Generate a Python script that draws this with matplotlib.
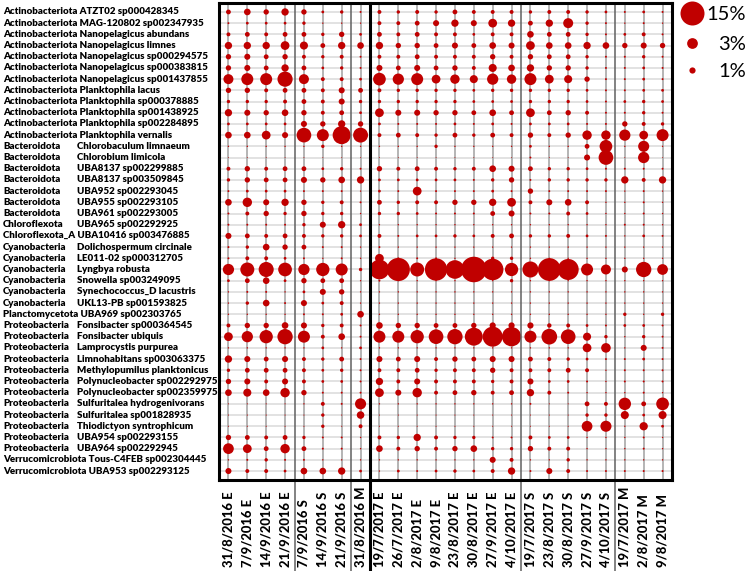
import numpy as np
import matplotlib.pyplot as plt
from matplotlib.transforms import blended_transform_factory

# taxa (rows, top to bottom)
phyla = ['Actinobacteriota'] * 12 + ['Bacteroidota'] * 7 + ['Chloroflexota', 'Chloroflexota_A'] + \
        ['Cyanobacteria'] * 6 + ['Planctomycetota'] + ['Proteobacteria'] * 12 + ['Verrucomicrobiota'] * 2
species = ['ATZT02 sp000428345', 'MAG-120802 sp002347935', 'Nanopelagicus abundans', 'Nanopelagicus limnes',
           'Nanopelagicus sp000294575', 'Nanopelagicus sp000383815', 'Nanopelagicus sp001437855',
           'Planktophila lacus', 'Planktophila sp000378885', 'Planktophila sp001438925',
           'Planktophila sp002284895', 'Planktophila vernalis',
           'Chlorobaculum limnaeum', 'Chlorobium limicola', 'UBA8137 sp002299885', 'UBA8137 sp003509845',
           'UBA952 sp002293045', 'UBA955 sp002293105', 'UBA961 sp002293005',
           'UBA965 sp002292925', 'UBA10416 sp003476885',
           'Dolichospermum circinale', 'LE011-02 sp000312705', 'Lyngbya robusta', 'Snowella sp003249095',
           'Synechococcus_D lacustris', 'UKL13-PB sp001593825',
           'UBA969 sp002303765',
           'Fonsibacter sp000364545', 'Fonsibacter ubiquis', 'Lamprocystis purpurea', 'Limnohabitans sp003063375',
           'Methylopumilus planktonicus', 'Polynucleobacter sp002292975', 'Polynucleobacter sp002359975',
           'Sulfuritalea hydrogenivorans', 'Sulfuritalea sp001828935', 'Thiodictyon syntrophicum',
           'UBA954 sp002293155', 'UBA964 sp002292945',
           'Tous-C4FEB sp002304445', 'UBA953 sp002293125']

# samples (columns)
samples = ['31/8/2016 E', '7/9/2016 E', '14/9/2016 E', '21/9/2016 E',
           '7/9/2016 S', '14/9/2016 S', '21/9/2016 S', '31/8/2016 M',
           '19/7/2017 E', '26/7/2017 E', '2/8/2017 E', '9/8/2017 E',
           '23/8/2017 E', '30/8/2017 E', '27/9/2017 E', '4/10/2017 E',
           '19/7/2017 S', '23/8/2017 S', '30/8/2017 S', '27/9/2017 S', '4/10/2017 S',
           '19/7/2017 M', '2/8/2017 M', '9/8/2017 M']

# relative abundance (%), one row per taxon
abundance = [
    [0.6, 1.15, 0.75, 1.4, 0.75, 0.2, 0.3, 0.1, 0.4, 0.3, 0.4, 0.3, 0.6, 0.4, 0.4, 0.4, 0.3, 0.4, 0.4, 0.3, 0.2, 0.1, 0.2, 0.1],
    [0.1, 0.2, 0.2, 0.2, 0.3, 0.05, 0.05, 0.05, 0.4, 0.4, 0.6, 0.95, 1.4, 0.95, 2.0, 1.4, 0.6, 1.4, 2.6, 0.3, 0.1, 0.05, 0.1, 0.05],
    [0.4, 0.6, 0.4, 0.6, 0.6, 0.3, 0.75, 0.2, 0.6, 0.4, 0.6, 0.4, 0.4, 0.2, 0.4, 0.4, 1.15, 0.6, 0.6, 0.3, 0.1, 0.2, 0.4, 0.1],
    [1.4, 1.4, 1.4, 2.0, 1.7, 0.6, 1.4, 1.15, 1.4, 0.75, 0.75, 0.6, 0.95, 0.6, 1.15, 0.95, 2.0, 1.15, 1.15, 1.4, 1.15, 0.75, 0.95, 0.75],
    [0.75, 0.95, 0.6, 0.75, 0.4, 0.3, 0.4, 0.1, 0.4, 0.4, 0.6, 0.4, 0.4, 0.4, 0.75, 0.4, 0.75, 0.6, 0.6, 0.3, 0.1, 0.1, 0.3, 0.1],
    [0.75, 0.95, 0.6, 1.4, 0.6, 0.2, 0.3, 0.1, 0.95, 0.6, 0.95, 0.6, 0.75, 0.4, 1.7, 1.15, 1.4, 0.75, 0.75, 0.3, 0.1, 0.1, 0.2, 0.1],
    [2.6, 3.75, 3.75, 6.0, 2.6, 0.4, 0.4, 0.2, 4.2, 3.3, 3.75, 2.0, 2.3, 1.7, 3.3, 2.3, 3.75, 2.0, 1.7, 0.75, 0.1, 0.1, 0.2, 0.1],
    [0.75, 0.75, 0.4, 0.6, 0.6, 0.4, 0.95, 0.6, 0.4, 0.3, 0.3, 0.3, 0.3, 0.2, 0.3, 0.3, 0.3, 0.3, 0.3, 0.2, 0.1, 0.1, 0.2, 0.2],
    [0.3, 0.3, 0.3, 0.4, 0.6, 0.4, 0.95, 0.3, 0.3, 0.3, 0.3, 0.3, 0.3, 0.2, 0.2, 0.2, 0.3, 0.3, 0.3, 0.2, 0.1, 0.2, 0.3, 0.2],
    [1.4, 0.95, 0.75, 1.15, 0.75, 0.4, 0.6, 0.2, 2.0, 0.95, 0.95, 0.75, 0.75, 0.6, 1.15, 0.6, 2.0, 0.6, 0.75, 0.4, 0.1, 0.1, 0.3, 0.1],
    [0.2, 0.2, 0.2, 0.2, 0.95, 0.75, 1.4, 0.75, 0.2, 0.1, 0.1, 0.1, 0.2, 0.1, 0.2, 0.1, 0.2, 0.2, 0.2, 0.1, 0.1, 0.75, 0.4, 0.3],
    [1.15, 1.15, 2.0, 0.95, 5.6, 3.75, 8.5, 5.8, 0.4, 0.6, 0.4, 0.3, 0.6, 0.3, 0.6, 0.4, 0.75, 0.4, 0.75, 2.3, 2.3, 3.3, 2.0, 3.75],
    [0.05, 0.05, 0.05, 0.05, 0.05, 0.3, 0.05, 0.05, 0.05, 0.05, 0.05, 0.3, 0.05, 0.05, 0.05, 0.05, 0.2, 0.05, 0.05, 0.6, 4.2, 0.05, 3.2, 0.05],
    [0.02, 0.02, 0.02, 0.02, 0.02, 0.02, 0.02, 0.02, 0.02, 0.02, 0.02, 0.02, 0.02, 0.02, 0.02, 0.02, 0.1, 0.02, 0.02, 0.95, 5.6, 0.02, 3.3, 0.02],
    [0.4, 0.75, 0.4, 0.6, 0.6, 0.2, 0.3, 0.1, 0.75, 0.4, 0.6, 0.4, 0.3, 0.4, 1.15, 0.95, 0.6, 0.3, 0.3, 0.2, 0.1, 0.1, 0.1, 0.1],
    [0.3, 0.75, 0.6, 0.6, 0.95, 0.75, 1.15, 1.4, 0.2, 0.2, 0.2, 0.2, 0.2, 0.1, 0.3, 0.75, 0.1, 0.3, 0.3, 0.3, 0.3, 1.4, 0.4, 1.4],
    [0.1, 0.2, 0.2, 0.2, 0.1, 0.1, 0.1, 0.05, 0.2, 0.1, 2.0, 0.1, 0.1, 0.1, 0.2, 0.1, 0.75, 0.1, 0.1, 0.1, 0.1, 0.05, 0.1, 0.05],
    [1.15, 2.3, 0.95, 1.4, 0.75, 0.3, 0.4, 0.1, 0.6, 0.3, 0.4, 0.4, 0.75, 0.75, 1.4, 2.0, 0.4, 0.95, 1.15, 0.4, 0.05, 0.05, 0.1, 0.05],
    [0.1, 0.4, 0.75, 0.3, 0.75, 0.3, 0.3, 0.05, 0.3, 0.3, 0.2, 0.1, 0.1, 0.1, 0.6, 0.95, 0.1, 0.1, 0.4, 0.2, 0.05, 0.05, 0.1, 0.05],
    [0.1, 0.1, 0.1, 0.1, 0.3, 0.95, 1.4, 0.2, 0.05, 0.05, 0.05, 0.05, 0.05, 0.05, 0.05, 0.05, 0.05, 0.05, 0.05, 0.05, 0.05, 0.1, 0.1, 0.05],
    [0.95, 0.6, 0.4, 0.6, 0.4, 0.3, 0.3, 0.2, 0.4, 0.1, 0.2, 0.2, 0.3, 0.2, 0.4, 0.6, 0.3, 0.3, 0.4, 0.2, 0.1, 0.05, 0.2, 0.1],
    [0.1, 0.3, 1.15, 0.75, 0.6, 0.1, 0.1, 0.05, 0.1, 0.05, 0.05, 0.05, 0.05, 0.05, 0.05, 0.05, 0.05, 0.05, 0.05, 0.05, 0.05, 0.05, 0.05, 0.05],
    [0.1, 0.4, 0.4, 0.2, 0.1, 0.05, 0.1, 0.05, 2.0, 0.1, 0.1, 0.1, 0.05, 0.05, 0.3, 0.3, 0.05, 0.05, 0.05, 0.05, 0.05, 0.05, 0.05, 0.05],
    [3.3, 5.1, 5.9, 4.9, 3.3, 4.6, 3.75, 0.3, 10.0, 14.0, 5.1, 13.0, 9.0, 17.0, 12.0, 4.6, 6.7, 13.5, 11.5, 3.75, 2.6, 0.95, 6.1, 3.0],
    [0.2, 0.6, 1.15, 0.2, 0.75, 0.6, 0.6, 0.05, 0.1, 0.05, 0.05, 0.05, 0.05, 0.05, 0.05, 0.3, 0.05, 0.05, 0.05, 0.05, 0.05, 0.05, 0.05, 0.05],
    [0.05, 0.1, 0.1, 0.05, 0.2, 0.95, 0.75, 0.05, 0.05, 0.05, 0.05, 0.05, 0.05, 0.05, 0.05, 0.05, 0.05, 0.05, 0.05, 0.05, 0.05, 0.05, 0.05, 0.05],
    [0.05, 0.3, 1.15, 0.1, 0.95, 0.2, 0.4, 0.05, 0.05, 0.05, 0.05, 0.05, 0.05, 0.05, 0.05, 0.05, 0.05, 0.05, 0.05, 0.05, 0.05, 0.05, 0.05, 0.05],
    [0.05, 0.05, 0.05, 0.05, 0.1, 0.1, 0.2, 1.15, 0.05, 0.05, 0.05, 0.05, 0.05, 0.05, 0.05, 0.05, 0.05, 0.05, 0.05, 0.05, 0.05, 0.3, 0.05, 0.3],
    [0.4, 0.75, 0.75, 1.15, 0.95, 0.3, 0.4, 0.1, 1.15, 0.75, 0.75, 0.6, 0.6, 0.75, 1.0, 1.0, 1.0, 0.5, 0.4, 0.2, 0.1, 0.2, 0.2, 0.1],
    [2.0, 3.3, 4.6, 6.1, 3.75, 0.4, 1.15, 0.1, 3.75, 3.75, 4.6, 5.6, 6.1, 8.4, 10.4, 9.7, 3.75, 6.4, 5.6, 1.7, 0.3, 0.05, 0.3, 0.1],
    [0.05, 0.05, 0.05, 0.05, 0.05, 0.2, 0.05, 0.2, 0.05, 0.05, 0.05, 0.05, 0.05, 0.05, 0.05, 0.05, 0.05, 0.05, 0.05, 2.0, 2.4, 0.05, 0.95, 0.1],
    [1.4, 0.95, 0.6, 0.95, 0.4, 0.3, 0.6, 0.1, 0.95, 0.6, 0.95, 0.4, 0.75, 0.6, 0.95, 0.95, 0.6, 0.4, 0.3, 0.2, 0.1, 0.1, 0.2, 0.1],
    [0.3, 0.6, 0.6, 0.6, 0.4, 0.2, 0.3, 0.1, 0.4, 0.4, 0.6, 0.3, 0.4, 0.4, 0.75, 0.4, 0.4, 0.4, 0.6, 0.4, 0.05, 0.1, 0.1, 0.1],
    [0.75, 0.95, 0.4, 0.95, 0.4, 0.2, 0.2, 0.1, 1.4, 0.4, 0.95, 0.4, 0.4, 0.4, 0.3, 0.4, 0.95, 0.2, 0.2, 0.1, 0.05, 0.1, 0.1, 0.1],
    [1.15, 1.7, 1.15, 2.3, 0.75, 0.1, 0.1, 0.1, 2.0, 0.95, 2.3, 0.4, 0.6, 0.75, 0.4, 0.6, 1.4, 0.4, 0.1, 0.05, 0.05, 0.05, 0.1, 0.05],
    [0.03, 0.03, 0.03, 0.03, 0.05, 0.4, 0.1, 3.2, 0.05, 0.05, 0.05, 0.05, 0.05, 0.05, 0.05, 0.05, 0.1, 0.03, 0.03, 0.6, 0.4, 4.0, 0.6, 4.2],
    [0.03, 0.03, 0.03, 0.03, 0.03, 0.3, 0.03, 1.5, 0.03, 0.03, 0.03, 0.03, 0.03, 0.03, 0.03, 0.03, 0.03, 0.03, 0.03, 0.3, 0.3, 1.7, 0.2, 1.7],
    [0.03, 0.03, 0.03, 0.03, 0.03, 0.3, 0.03, 0.4, 0.03, 0.03, 0.03, 0.03, 0.03, 0.03, 0.03, 0.03, 0.03, 0.03, 0.03, 3.0, 3.2, 0.05, 1.8, 0.2],
    [0.75, 0.6, 0.4, 0.6, 0.3, 0.1, 0.1, 0.05, 0.4, 0.3, 1.4, 0.4, 0.3, 0.3, 0.1, 0.1, 0.4, 0.2, 0.2, 0.05, 0.05, 0.05, 0.1, 0.05],
    [3.0, 2.0, 0.6, 2.3, 0.6, 0.1, 0.1, 0.05, 1.15, 0.4, 0.75, 0.4, 0.75, 1.15, 0.3, 0.3, 0.75, 0.4, 0.4, 0.05, 0.05, 0.05, 0.1, 0.05],
    [0.05, 0.1, 0.3, 0.1, 0.1, 0.05, 0.05, 0.05, 0.05, 0.05, 0.05, 0.05, 0.05, 0.05, 0.95, 0.4, 0.05, 0.05, 0.3, 0.05, 0.05, 0.05, 0.05, 0.05],
    [0.95, 0.4, 0.4, 0.2, 1.15, 1.15, 1.4, 0.2, 0.05, 0.2, 0.1, 0.2, 0.3, 0.2, 0.4, 1.4, 0.1, 0.95, 0.4, 0.1, 0.1, 0.1, 0.1, 0.1],
]

legend_values = [15, 3, 1]

red = '#c00000'
plt.rcParams['font.family'] = ['Lato', 'DejaVu Sans']

fig = plt.figure(figsize=(7.49, 5.71), dpi=100)
ax = fig.add_axes([219 / 749, 1 - 480 / 571, 453 / 749, 477 / 571])

ab = np.array(abundance)
n_rows, n_cols = ab.shape
# marker area in pt^2 per percent: 15 % -> 24 px wide circle
scale = (24 * 72 / 100) ** 2 / 15

for i in range(n_rows):
    ax.axhline(i, color='#dadada', lw=1.1, zorder=1)
for j in range(n_cols):
    ax.axvline(j, color='#a8a8a8', lw=1.2, zorder=1)

cols, rows = np.meshgrid(np.arange(n_cols), np.arange(n_rows))
ax.scatter(cols.ravel(), rows.ravel(), s=ab.ravel() * scale, color=red, linewidths=0, zorder=3)

ax.set_xlim(-0.5, n_cols - 0.5)
ax.set_ylim(n_rows - 0.2, -0.8)
ax.set_xticks([])
ax.set_yticks([])
for sp in ax.spines.values():
    sp.set_linewidth(2.2)
    sp.set_zorder(5)

# group separators (site / year changes), running down through the labels
tx = blended_transform_factory(ax.transData, ax.transAxes)
for j in range(1, n_cols):
    a, b = samples[j - 1].split(), samples[j].split()
    year_a, year_b = a[0][-4:], b[0][-4:]
    if year_a != year_b:
        ax.plot([j - 0.5, j - 0.5], [1, -0.19], transform=tx, color='black', lw=2.2,
                clip_on=False, zorder=5)
    elif a[1] != b[1]:
        ax.plot([j - 0.5, j - 0.5], [1, -0.19], transform=tx, color='#606060', lw=1.1,
                clip_on=False, zorder=4)

# sample labels
for j, lab in enumerate(samples):
    ax.text(j, -0.182, lab, transform=tx, rotation=90, ha='center', va='bottom',
            fontsize=9.4, fontweight='black')

# taxon labels
ty = blended_transform_factory(fig.transFigure, ax.transData)
for i, (p, s) in enumerate(zip(phyla, species)):
    if len(p) > 14:
        ax.text(3 / 749, i, p + ' ' + s, transform=ty, va='center', ha='left',
                fontsize=7, fontweight='heavy')
    else:
        ax.text(3 / 749, i, p, transform=ty, va='center', ha='left', fontsize=7, fontweight='heavy')
        ax.text(77 / 749, i, s, transform=ty, va='center', ha='left', fontsize=7, fontweight='heavy')

# size legend
leg_y = [0.979, 0.916, 0.860]
for v, y in zip(legend_values, leg_y):
    ax.scatter([1.044], [y], s=v * scale, color=red, linewidths=0, transform=ax.transAxes,
               clip_on=False)
    ax.text(1.163, y - 0.004, f'{v}%', transform=ax.transAxes, ha='right', va='center', fontsize=14.5)

fig.savefig('out.png', dpi=100)
